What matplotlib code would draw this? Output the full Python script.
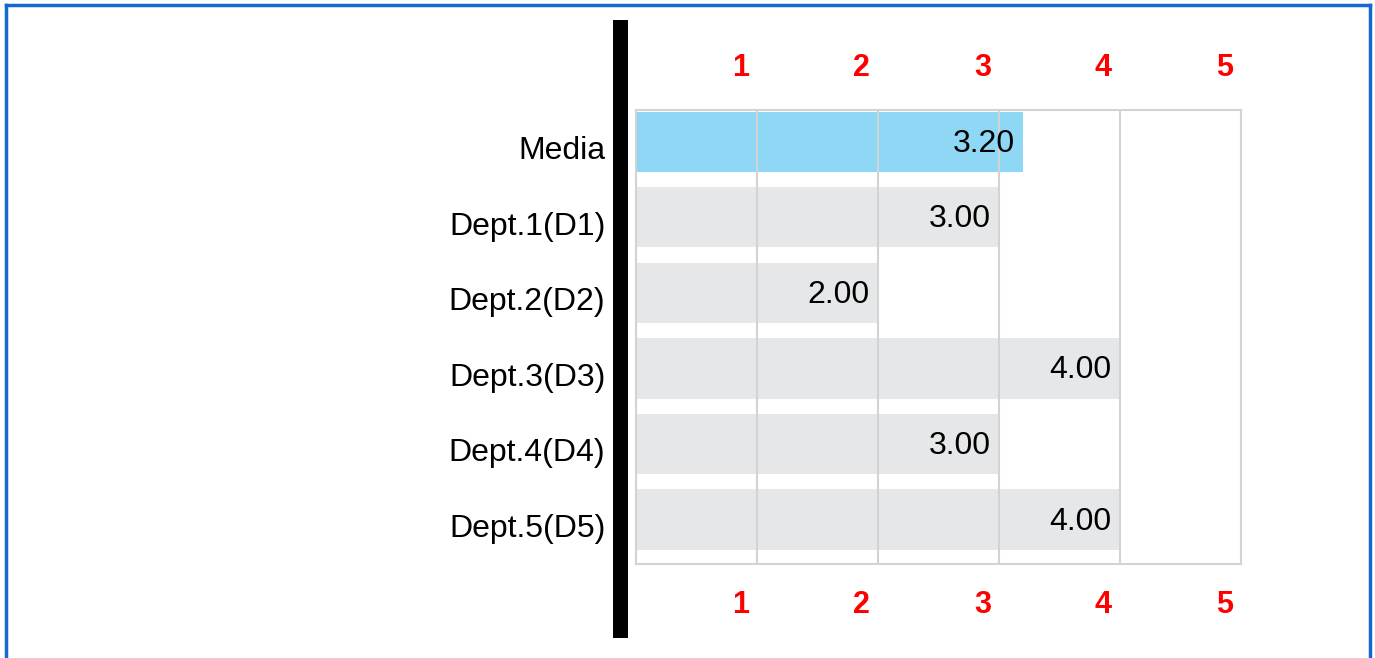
import matplotlib.pyplot as plt
from matplotlib.patches import Rectangle
from matplotlib.lines import Line2D
from matplotlib.transforms import ScaledTranslation

plt.rcParams['font.family'] = ['Liberation Sans', 'DejaVu Sans']

categories = ['Media', 'Dept.1(D1)', 'Dept.2(D2)', 'Dept.3(D3)', 'Dept.4(D4)', 'Dept.5(D5)']
scores = [3.20, 3.00, 2.00, 4.00, 3.00, 4.00]
tick_values = [1, 2, 3, 4, 5]
bar_colors = ['#8ED8F5'] + ['#E6E7E8'] * 5

W, H = 1375, 658
fig = plt.figure(figsize=(W / 100, H / 100), dpi=100)
ax = fig.add_axes([636 / W, (H - 564) / H, (1241 - 636) / W, (564 - 110) / H])

y = list(range(len(categories)))
ax.barh(y, scores, height=0.8, color=bar_colors, zorder=1)
ax.set_xlim(0, 5)
ax.set_ylim(5.59, -0.42)

# vertical grid drawn over the bars
for v in [0] + tick_values:
    ax.axvline(v, color='#D3D3D3', lw=1.5, zorder=2)
for s in ax.spines.values():
    s.set_color('#D3D3D3')
    s.set_linewidth(1.5)

ax.set_yticks(y)
ax.set_yticklabels(categories, fontsize=23)
ax.tick_params(axis='y', length=0, pad=22)
ax.set_xticks([])
shift = ScaledTranslation(0, -6 / 100, fig.dpi_scale_trans)
for lab in ax.get_yticklabels():
    lab.set_transform(lab.get_transform() + shift)

# value labels inside bar ends
for yi, val in zip(y, scores):
    ax.annotate(f'{val:.2f}', (val, yi), xytext=(-6, -1.5), textcoords='offset points',
                ha='right', va='center', fontsize=23, zorder=3)

# red scale numbers above and below the plot
for v in tick_values:
    ax.annotate(str(v), (v, 1), xycoords=('data', 'axes fraction'), xytext=(-12, 30.5),
                textcoords='offset points', ha='center', va='center',
                color='#FF0000', fontsize=22, fontweight='bold')
    ax.annotate(str(v), (v, 0), xycoords=('data', 'axes fraction'), xytext=(-12, -29.5),
                textcoords='offset points', ha='center', va='center',
                color='#FF0000', fontsize=22, fontweight='bold')

# thick black bar left of the plot
fig.add_artist(Rectangle((613 / W, (H - 638) / H), 15 / W, 618 / H,
                         transform=fig.transFigure, color='black', lw=0))

# blue frame (open at bottom)
bc = '#1568CF'
fig.add_artist(Line2D([6 / W, 6 / W], [0, 1 - 4.5 / H], color=bc, lw=2.5))
fig.add_artist(Line2D([6 / W, 1369.5 / W], [1 - 4.5 / H, 1 - 4.5 / H], color=bc, lw=2.5))
fig.add_artist(Line2D([1369.5 / W, 1369.5 / W], [0, 1 - 4.5 / H], color=bc, lw=2.5))

fig.savefig('out.png', dpi=100)
